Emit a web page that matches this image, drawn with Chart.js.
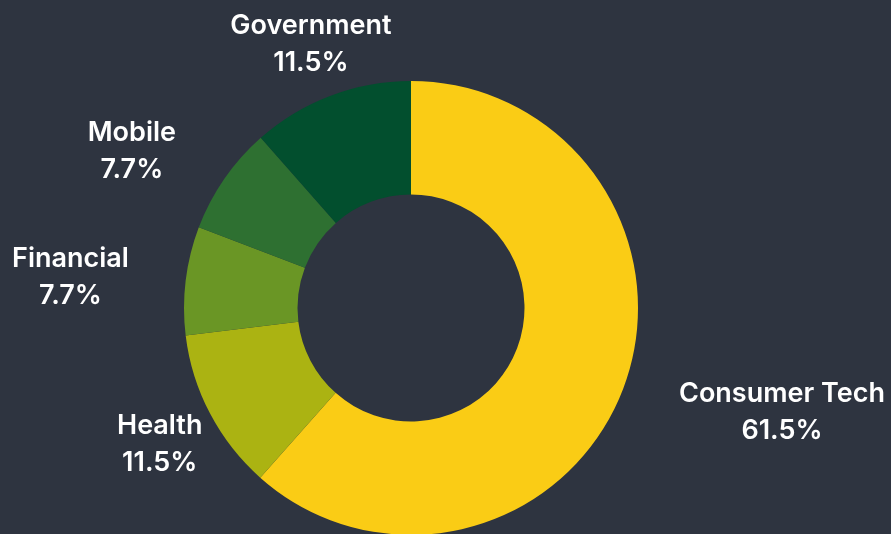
<!DOCTYPE html>
<html>
<head>
<meta charset="utf-8">
<script src="https://cdn.jsdelivr.net/npm/chart.js@4/dist/chart.umd.min.js"></script>
<style>
  html, body { margin: 0; padding: 0; background: #2e3440; overflow: hidden; }
  #wrap { width: 891px; height: 600px; position: relative; }
</style>
</head>
<body>
<div id="wrap"><canvas id="chart"></canvas></div>
<script>
const categories = ['Consumer Tech', 'Health', 'Financial', 'Mobile', 'Government'];
const shares = [61.5, 11.5, 7.7, 7.7, 11.5];
const sliceColors = ['#facc15', '#abb312', '#6a9625', '#2e7031', '#024f2e'];

// label placement along each slice's mid-angle (distance from centre, angle nudge in degrees)
const labelDistance = [385, 285, 342, 321, 283];
const labelNudge = [-5.3, -0.5, -1.6, -5.1, 0];

const outsideLabels = {
    id: 'outsideLabels',
    afterDatasetsDraw(chart) {
        const ctx = chart.ctx;
        const meta = chart.getDatasetMeta(0);
        ctx.save();
        ctx.fillStyle = '#ffffff';
        ctx.font = '600 27px Inter, sans-serif';
        ctx.textAlign = 'center';
        ctx.textBaseline = 'middle';
        meta.data.forEach((arc, i) => {
            const mid = (arc.startAngle + arc.endAngle) / 2 + labelNudge[i] * Math.PI / 180;
            const x = arc.x + Math.cos(mid) * labelDistance[i];
            const y = arc.y + Math.sin(mid) * labelDistance[i];
            ctx.fillText(categories[i], x, y - 17);
            ctx.fillText(shares[i].toFixed(1) + '%', x, y + 20);
        });
        ctx.restore();
    }
};

new Chart(document.getElementById('chart'), {
    type: 'doughnut',
    data: {
        labels: categories,
        datasets: [{
            data: shares,
            backgroundColor: sliceColors,
            borderWidth: 0
        }]
    },
    options: {
        responsive: true,
        maintainAspectRatio: false,
        animation: false,
        cutout: '50%',
        layout: { padding: { left: 184, right: 253, top: 81, bottom: 65 } },
        plugins: {
            legend: { display: false },
            tooltip: { enabled: false }
        }
    },
    plugins: [outsideLabels]
});
</script>
</body>
</html>
